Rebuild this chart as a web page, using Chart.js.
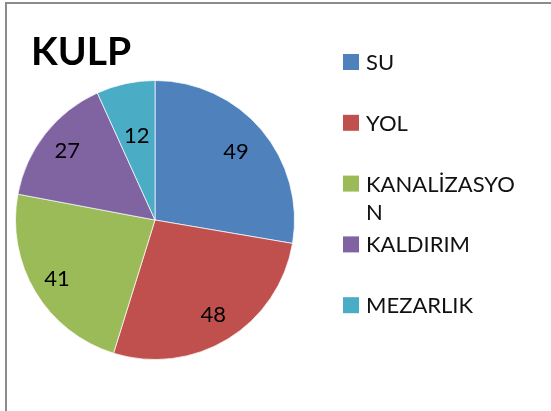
<!DOCTYPE html>
<html>
<head>
<meta charset="utf-8">
<script src="https://cdn.jsdelivr.net/npm/chart.js@4"></script>
<style>
  body { margin: 0; background: #fff; }
  #wrap { position: relative; width: 551px; height: 411px; overflow: hidden; }
  #frame { position: absolute; left: 5px; top: 2px; width: 600px; height: 500px;
           border-top: 2px solid #8c8c8c; border-left: 2px solid #8c8c8c; }
  canvas { position: absolute; left: 0; top: 0; }
</style>
</head>
<body>
<div id="wrap">
  <div id="frame"></div>
  <canvas id="chart" width="551" height="411"></canvas>
</div>
<script>
const title = 'KULP';
const categories = ['SU', 'YOL', 'KANALİZASYON', 'KALDIRIM', 'MEZARLIK'];
const values = [49, 48, 41, 27, 12];
const colors = ['#4F81BD', '#C0504D', '#9BBB59', '#8064A2', '#4BACC6'];

// how far out (fraction of radius) each value label sits
const labelRadius = [0.76, 0.8, 0.82, 0.8, 0.62];

const fontFamily = 'Lato, "Open Sans", sans-serif';

// value labels inside the slices
const sliceLabels = {
    id: 'sliceLabels',
    afterDatasetsDraw(chart) {
        const ctx = chart.ctx;
        const meta = chart.getDatasetMeta(0);
        ctx.save();
        ctx.font = '22px ' + fontFamily;
        ctx.fillStyle = '#000';
        ctx.textAlign = 'center';
        ctx.textBaseline = 'middle';
        meta.data.forEach((arc, i) => {
            const mid = (arc.startAngle + arc.endAngle) / 2;
            const r = arc.outerRadius * labelRadius[i];
            const x = arc.x + Math.cos(mid) * r;
            const y = arc.y + Math.sin(mid) * r;
            ctx.fillText(chart.data.datasets[0].data[i], x, y);
        });
        ctx.restore();
    }
};

// wraps a label by characters when it is wider than maxW
function wrapChars(ctx, text, maxW) {
    const lines = [];
    let cur = '';
    for (const ch of text) {
        if (cur && ctx.measureText(cur + ch).width > maxW) {
            lines.push(cur);
            cur = ch;
        } else {
            cur += ch;
        }
    }
    if (cur) lines.push(cur);
    return lines;
}

// title and legend in the style of the sheet
const sideText = {
    id: 'sideText',
    afterDraw(chart) {
        const ctx = chart.ctx;
        ctx.save();
        ctx.font = 'bold 39px ' + fontFamily;
        ctx.fillStyle = '#000';
        ctx.textBaseline = 'alphabetic';
        ctx.fillText(title, 31, 65);

        ctx.font = '22px ' + fontFamily;
        ctx.textBaseline = 'middle';
        const ds = chart.data.datasets[0];
        chart.data.labels.forEach((lab, i) => {
            const cy = 62 + i * 60.8;
            ctx.fillStyle = ds.backgroundColor[i];
            ctx.fillRect(343, cy - 8, 16, 16);
            ctx.fillStyle = '#111';
            const lines = wrapChars(ctx, lab, 155);
            lines.forEach((ln, j) => {
                ctx.fillText(ln, 366, cy + 1 + j * 28);
            });
        });
        ctx.restore();
    }
};

new Chart(document.getElementById('chart'), {
    type: 'pie',
    data: {
        labels: categories,
        datasets: [{
            data: values,
            backgroundColor: colors,
            borderColor: 'rgba(255,255,255,0.7)',
            borderWidth: 1
        }]
    },
    options: {
        responsive: false,
        animation: false,
        devicePixelRatio: 1,
        layout: {
            padding: { left: 15, top: 80, right: 256, bottom: 51 }
        },
        plugins: {
            legend: { display: false },
            tooltip: { enabled: false }
        }
    },
    plugins: [sliceLabels, sideText]
});
</script>
</body>
</html>
